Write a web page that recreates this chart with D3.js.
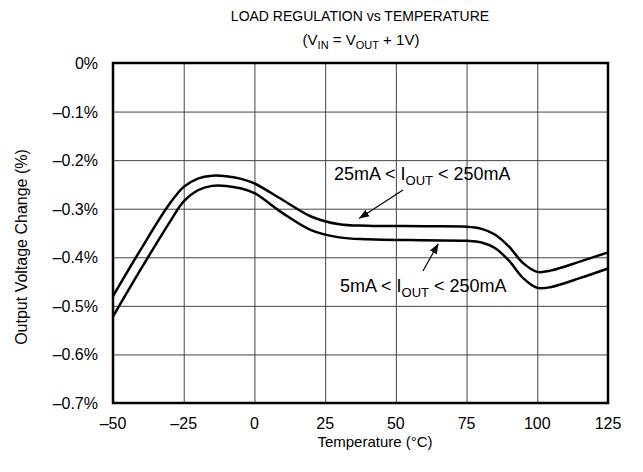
<!DOCTYPE html>
<html>
<head>
<meta charset="utf-8">
<script src="https://cdn.jsdelivr.net/npm/d3@7"></script>
<style>
  body { margin: 0; background: #fff; }
  text { font-family: "Liberation Sans", Arial, sans-serif; fill: #000; }
</style>
</head>
<body>
<svg id="chart" width="643" height="472"></svg>
<script>
// temperature ticks and y ticks
var xTicks = [-50, -25, 0, 25, 50, 75, 100, 125];
var yTicks = [0, -0.1, -0.2, -0.3, -0.4, -0.5, -0.6, -0.7];

// 25mA < IOUT < 250mA (upper curve)
var tempHi = [-50, -40, -30, -25, -20, -15, -10, -5, 0, 10, 20, 30, 40, 60, 75, 80, 85, 90, 95, 100, 105, 115, 125];
var valHi  = [-0.480, -0.382, -0.290, -0.255, -0.238, -0.232, -0.233, -0.238, -0.248, -0.282, -0.316, -0.332, -0.335, -0.336, -0.337, -0.341, -0.353, -0.378, -0.412, -0.430, -0.427, -0.409, -0.390];

// 5mA < IOUT < 250mA (lower curve)
var tempLo = [-50, -40, -30, -25, -20, -15, -10, -5, 0, 10, 20, 30, 40, 60, 75, 80, 85, 90, 95, 100, 105, 115, 125];
var valLo  = [-0.522, -0.423, -0.328, -0.285, -0.262, -0.253, -0.253, -0.258, -0.268, -0.309, -0.344, -0.359, -0.363, -0.365, -0.366, -0.369, -0.381, -0.407, -0.443, -0.463, -0.461, -0.443, -0.423];

var svg = d3.select("#chart");
var mLeft = 113, mRight = 608, mTop = 63, mBottom = 403;

var x = d3.scaleLinear().domain([-50, 125]).range([mLeft, mRight]);
var y = d3.scaleLinear().domain([-0.7, 0]).range([mBottom, mTop]);

// grid
svg.append("g")
    .attr("transform", "translate(0," + mBottom + ")")
    .call(d3.axisBottom(x).tickValues(xTicks).tickSize(-(mBottom - mTop)).tickFormat(""))
    .call(g => g.select(".domain").remove())
    .selectAll("line").attr("stroke", "#444").attr("stroke-width", 1);

svg.append("g")
    .attr("transform", "translate(" + mLeft + ",0)")
    .call(d3.axisLeft(y).tickValues(yTicks).tickSize(-(mRight - mLeft)).tickFormat(""))
    .call(g => g.select(".domain").remove())
    .selectAll("line").attr("stroke", "#444").attr("stroke-width", 1);

// tick labels
svg.append("g").selectAll("text")
    .data(xTicks).enter().append("text")
    .attr("x", d => x(d))
    .attr("y", mBottom + 26)
    .attr("text-anchor", "middle")
    .attr("font-size", 16)
    .text(d => (d < 0 ? "\u2013" + Math.abs(d) : d));

svg.append("g").selectAll("text")
    .data(yTicks).enter().append("text")
    .attr("x", mLeft - 15)
    .attr("y", d => y(d) + 6)
    .attr("text-anchor", "end")
    .attr("font-size", 16)
    .text(d => (d === 0 ? "0%" : "\u2013" + Math.abs(d).toFixed(1) + "%"));

// frame
svg.append("rect")
    .attr("x", mLeft).attr("y", mTop)
    .attr("width", mRight - mLeft).attr("height", mBottom - mTop)
    .attr("fill", "none").attr("stroke", "#000").attr("stroke-width", 2.5);

// curves
var line = d3.line()
    .x(d => x(d[0]))
    .y(d => y(d[1]))
    .curve(d3.curveCatmullRom.alpha(0.5));

svg.append("path")
    .datum(d3.zip(tempHi, valHi))
    .attr("d", line)
    .attr("fill", "none").attr("stroke", "#000").attr("stroke-width", 2.5);

svg.append("path")
    .datum(d3.zip(tempLo, valLo))
    .attr("d", line)
    .attr("fill", "none").attr("stroke", "#000").attr("stroke-width", 2.5);

// arrow marker
svg.append("defs").append("marker")
    .attr("id", "arr")
    .attr("viewBox", "0 0 10 10")
    .attr("refX", 10).attr("refY", 5)
    .attr("markerWidth", 10).attr("markerHeight", 10)
    .attr("markerUnits", "userSpaceOnUse")
    .attr("orient", "auto")
    .append("path").attr("d", "M0,1 L10,5 L0,9 Z").attr("fill", "#000");

svg.append("line")
    .attr("x1", 403).attr("y1", 190).attr("x2", x(37)).attr("y2", y(-0.32))
    .attr("stroke", "#000").attr("stroke-width", 1.2).attr("marker-end", "url(#arr)");

svg.append("line")
    .attr("x1", 423).attr("y1", 271).attr("x2", x(65)).attr("y2", y(-0.372))
    .attr("stroke", "#000").attr("stroke-width", 1.2).attr("marker-end", "url(#arr)");

// curve labels
var lab1 = svg.append("text").attr("x", 334).attr("y", 180).attr("font-size", 18);
lab1.append("tspan").text("25mA < I");
lab1.append("tspan").attr("font-size", 13).attr("dy", 5).text("OUT");
lab1.append("tspan").attr("dy", -5).text(" < 250mA");

var lab2 = svg.append("text").attr("x", 340).attr("y", 292).attr("font-size", 18);
lab2.append("tspan").text("5mA < I");
lab2.append("tspan").attr("font-size", 13).attr("dy", 5).text("OUT");
lab2.append("tspan").attr("dy", -5).text(" < 250mA");

// titles
svg.append("text")
    .attr("x", 360).attr("y", 21)
    .attr("text-anchor", "middle").attr("font-size", 14)
    .text("LOAD REGULATION vs TEMPERATURE");

var sub = svg.append("text")
    .attr("x", 361).attr("y", 45)
    .attr("text-anchor", "middle").attr("font-size", 15);
sub.append("tspan").text("(V");
sub.append("tspan").attr("font-size", 11).attr("dy", 4).text("IN");
sub.append("tspan").attr("dy", -4).text(" = V");
sub.append("tspan").attr("font-size", 11).attr("dy", 4).text("OUT");
sub.append("tspan").attr("dy", -4).text(" + 1V)");

svg.append("text")
    .attr("x", 375).attr("y", 447)
    .attr("text-anchor", "middle").attr("font-size", 15)
    .text("Temperature (\u00B0C)");

svg.append("text")
    .attr("transform", "translate(27,247) rotate(-90)")
    .attr("text-anchor", "middle").attr("font-size", 16)
    .text("Output Voltage Change (%)");
</script>
</body>
</html>
